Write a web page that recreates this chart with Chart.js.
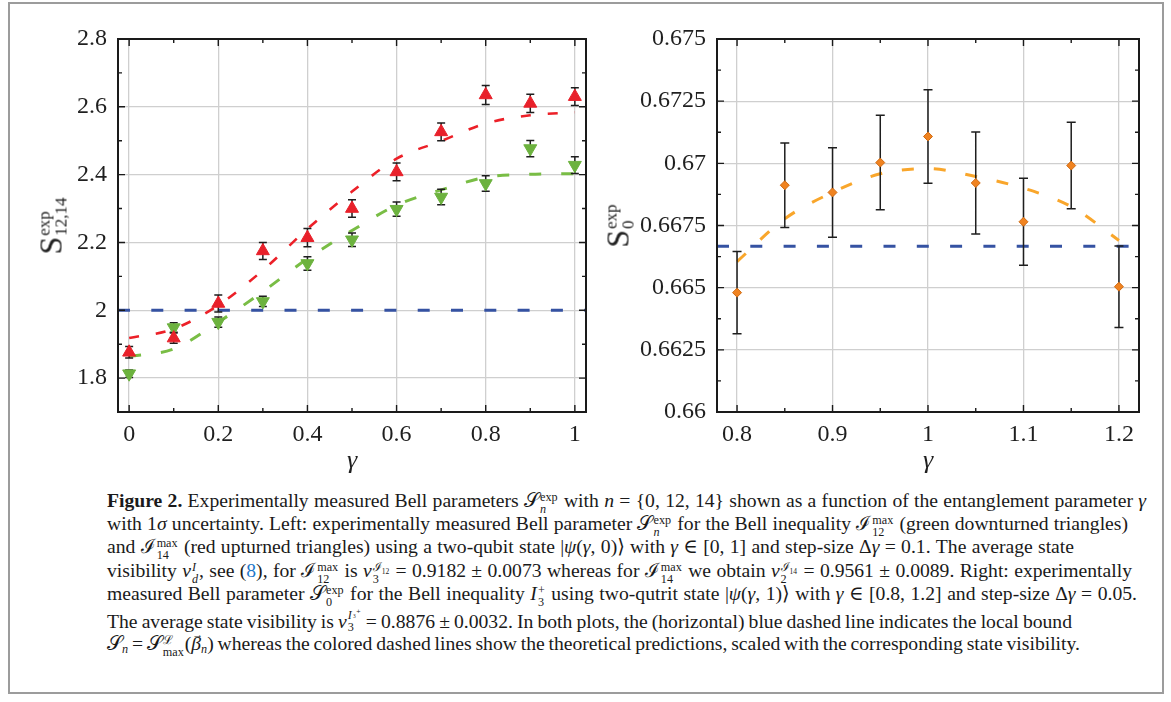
<!DOCTYPE html>
<html>
<head>
<meta charset="utf-8">
<title>Bell parameters vs gamma</title>
<script src="https://cdn.jsdelivr.net/npm/chart.js@4.4.1/dist/chart.umd.min.js"></script>
<style>
  body { margin: 0; background: #fff; }
  #page { position: relative; width: 1171px; height: 702px; overflow: hidden; background: #fff;
          font-family: 'Liberation Serif', 'DejaVu Serif', serif; color: #1a1a1a; }
  #frame { position: absolute; left: 8px; top: 2px; width: 1152px; height: 688px; border: 2px solid #9c9c9c; }
  canvas { position: absolute; top: 0; }
  #left { left: 0; }
  #right { left: 590px; }
  .ytitle { position: absolute; transform: translate(-50%, -50%) rotate(-90deg); white-space: nowrap;
            font-size: 32px; line-height: 1; color: #222; }
  .ytitle .st { display: inline-flex; flex-direction: column; font-size: 17px; line-height: 1;
                vertical-align: 12px; margin-left: 1px; }
  .line { position: absolute; left: 107px; white-space: nowrap; font-size: 17px; line-height: 23px; }
  .ss { display: inline-flex; flex-direction: column; font-size: 0.62em; line-height: 1;
        vertical-align: 6px; margin-left: 1px; margin-right: 1px; }
  .ss > span { height: 1em; }
  .tiny { font-size: 0.75em; position: relative; top: -3px; margin-left: 1px; }
  sub { font-size: 0.62em; vertical-align: -3px; line-height: 0; }
  .cite { color: #1f78c8; }
  .vec { position: relative; display: inline-block; }
  .vec::after { content: '\2192'; position: absolute; left: 1px; top: -9px; font-size: 11px; }
</style>
</head>
<body>
<div id="page">
  <div id="frame"></div>
  <canvas id="left" width="600" height="480"></canvas>
  <canvas id="right" width="581" height="480"></canvas>

  <div class="ytitle" style="left:52px; top:226px;">S<span class="st"><span>exp</span><span>12,14</span></span></div>
  <div class="ytitle" style="left:619px; top:226px;">S<span class="st"><span>exp</span><span>0</span></span></div>

  <div id="caption">
    <div class="line" data-right="1146" style="top:489px;"><b>Figure 2.</b> Experimentally measured Bell parameters 𝒮<span class="ss"><span>exp</span><span><i>n</i></span></span> with <i>n</i> = {0, 12, 14} shown as a function of the entanglement parameter <i>γ</i></div>
    <div class="line" data-right="1128" style="top:512px;">with 1<i>σ</i> uncertainty. Left: experimentally measured Bell parameter 𝒮<span class="ss"><span>exp</span><span><i>n</i></span></span> for the Bell inequality ℐ<span class="ss"><span>max</span><span>12</span></span> (green downturned triangles)</div>
    <div class="line" data-right="1074" style="top:535px;">and ℐ<span class="ss"><span>max</span><span>14</span></span> (red upturned triangles) using a two-qubit state |<i>ψ</i>(<i>γ</i>, 0)⟩ with <i>γ</i> ∈ [0, 1] and step-size Δ<i>γ</i> = 0.1. The average state</div>
    <div class="line" data-right="1132" style="top:559px;">visibility <i>ν</i><span class="ss"><span><i>I</i></span><span><i>d</i></span></span>, see (<span class="cite">8</span>), for ℐ<span class="ss"><span>max</span><span>12</span></span> is <i>ν</i><span class="ss"><span>ℐ<sub>12</sub></span><span>3</span></span> = 0.9182 ± 0.0073 whereas for ℐ<span class="ss"><span>max</span><span>14</span></span> we obtain <i>ν</i><span class="ss"><span>ℐ<sub>14</sub></span><span>2</span></span> = 0.9561 ± 0.0089. Right: experimentally</div>
    <div class="line" data-right="1137" style="top:582px;">measured Bell parameter 𝒮<span class="ss"><span>exp</span><span>0</span></span> for the Bell inequality <i>I</i><span class="ss"><span>+</span><span>3</span></span> using two-qutrit state |<i>ψ</i>(<i>γ</i>, 1)⟩ with <i>γ</i> ∈ [0.8, 1.2] and step-size Δ<i>γ</i> = 0.05.</div>
    <div class="line" data-right="1072" style="top:609px;">The average state visibility is <i>ν</i><span class="ss" style="vertical-align:9px"><span><i>I</i><span class="tiny">₃⁺</span></span><span>3</span></span> = 0.8876 ± 0.0032. In both plots, the (horizontal) blue dashed line indicates the local bound</div>
    <div class="line" data-right="1080" style="top:632px;">𝒮<sub><i>n</i></sub> = 𝒮<span class="ss"><span>ℒ</span><span>max</span></span>(<span class="vec"><i>β</i></span><sub><i>n</i></sub>) whereas the colored dashed lines show the theoretical predictions, scaled with the corresponding state visibility.</div>
  </div>
</div>

<script>
// ---- left panel: S_12 (green, downturned) and S_14 (red, upturned) ----
var gammaLeft = [0, 0.1, 0.2, 0.3, 0.4, 0.5, 0.6, 0.7, 0.8, 0.9, 1];
var s14 = [1.876, 1.918, 2.020, 2.175, 2.214, 2.300, 2.408, 2.526, 2.635, 2.610, 2.630];
var s14Err = [0.017, 0.015, 0.025, 0.025, 0.027, 0.026, 0.026, 0.026, 0.028, 0.027, 0.026];
var s12 = [1.813, 1.949, 1.965, 2.026, 2.138, 2.208, 2.298, 2.334, 2.374, 2.477, 2.428];
var s12Err = [0.011, 0.014, 0.015, 0.015, 0.020, 0.020, 0.021, 0.023, 0.023, 0.024, 0.025];
var s14Theory = [1.918, 1.945, 2.015, 2.118, 2.240, 2.350, 2.447, 2.499, 2.551, 2.575, 2.584];
var s12Theory = [1.864, 1.886, 1.965, 2.055, 2.152, 2.235, 2.310, 2.355, 2.392, 2.401, 2.403];
var boundLeft = 2;
var xRangeLeft = [-0.025, 1.025];
var yRangeLeft = [1.7, 2.8];
var xTicksLeft = [0, 0.2, 0.4, 0.6, 0.8, 1];
var xLabelsLeft = ['0', '0.2', '0.4', '0.6', '0.8', '1'];
var xMinorLeft = [0.1, 0.3, 0.5, 0.7, 0.9];
var yTicksLeft = [1.8, 2.0, 2.2, 2.4, 2.6, 2.8];
var yLabelsLeft = ['1.8', '2', '2.2', '2.4', '2.6', '2.8'];
var yMinorLeft = [1.7, 1.9, 2.1, 2.3, 2.5, 2.7];

// ---- right panel: S_0 for the qutrit inequality ----
var gammaRight = [0.8, 0.85, 0.9, 0.95, 1.0, 1.05, 1.1, 1.15, 1.2];
var s0 = [0.66480, 0.66912, 0.66883, 0.67003, 0.67108, 0.66921, 0.66765, 0.66991, 0.66504];
var s0Err = [0.00165, 0.00170, 0.00180, 0.00190, 0.00188, 0.00205, 0.00175, 0.00174, 0.00164];
var s0Theory = [0.66605, 0.66777, 0.66883, 0.66958, 0.66979, 0.66947, 0.66900, 0.66826, 0.66690];
var boundRight = 2 / 3;
var xRangeRight = [0.779, 1.221];
var yRangeRight = [0.66, 0.675];
var xTicksRight = [0.8, 0.9, 1.0, 1.1, 1.2];
var xLabelsRight = ['0.8', '0.9', '1', '1.1', '1.2'];
var xMinorRight = [0.85, 0.95, 1.05, 1.15];
var yTicksRight = [0.66, 0.6625, 0.665, 0.6675, 0.67, 0.6725, 0.675];
var yLabelsRight = ['0.66', '0.6625', '0.665', '0.6675', '0.67', '0.6725', '0.675'];
var yMinorRight = [0.66125, 0.66375, 0.66625, 0.66875, 0.67125, 0.67375];

var FONT = 'Liberation Serif';
Chart.defaults.font.family = FONT;
Chart.defaults.color = '#222';

function points(xs, ys) {
  return xs.map(function (x, i) { return { x: x, y: ys[i] }; });
}

// vertical error bars with caps, drawn just before the marker dataset
var errorBars = {
  id: 'errorBars',
  beforeDatasetDraw: function (chart, args) {
    var ds = chart.data.datasets[args.index];
    if (!ds.errors) return;
    var ctx = chart.ctx, x = chart.scales.x, y = chart.scales.y;
    var cap = ds.capWidth || 4;
    ctx.save();
    ctx.strokeStyle = '#1e1e1e';
    ctx.lineWidth = 1.5;
    ctx.beginPath();
    ds.data.forEach(function (p, i) {
      var px = x.getPixelForValue(p.x);
      var top = y.getPixelForValue(p.y + ds.errors[i]);
      var bot = y.getPixelForValue(p.y - ds.errors[i]);
      ctx.moveTo(px, top); ctx.lineTo(px, bot);
      ctx.moveTo(px - cap, top); ctx.lineTo(px + cap, top);
      ctx.moveTo(px - cap, bot); ctx.lineTo(px + cap, bot);
    });
    ctx.stroke();
    ctx.restore();
  }
};

// box around the plot area with inward tick marks on all four sides
var frameTicks = {
  id: 'frameTicks',
  afterDraw: function (chart, args, opts) {
    var ctx = chart.ctx, a = chart.chartArea;
    var x = chart.scales.x, y = chart.scales.y;
    ctx.save();
    ctx.strokeStyle = '#1a1a1a';
    ctx.lineWidth = 1.4;
    ctx.beginPath();
    function xMarks(vals, len) {
      vals.forEach(function (v) {
        var px = x.getPixelForValue(v);
        ctx.moveTo(px, a.bottom); ctx.lineTo(px, a.bottom - len);
        ctx.moveTo(px, a.top); ctx.lineTo(px, a.top + len);
      });
    }
    function yMarks(vals, len) {
      vals.forEach(function (v) {
        var py = y.getPixelForValue(v);
        ctx.moveTo(a.left, py); ctx.lineTo(a.left + len, py);
        ctx.moveTo(a.right, py); ctx.lineTo(a.right - len, py);
      });
    }
    xMarks(opts.xMajor, 7); xMarks(opts.xMinor, 4);
    yMarks(opts.yMajor, 7); yMarks(opts.yMinor, 4);
    ctx.stroke();
    ctx.lineWidth = 2;
    ctx.strokeRect(a.left, a.top, a.right - a.left, a.bottom - a.top);
    ctx.restore();
  }
};

function makePanel(id, p) {
  var grid = { color: '#cfcfcf', lineWidth: 1.3, drawTicks: false };
  return new Chart(document.getElementById(id), {
    type: 'scatter',
    data: { datasets: p.datasets },
    plugins: [errorBars, frameTicks],
    options: {
      responsive: false,
      animation: false,
      events: [],
      devicePixelRatio: 1,
      layout: { padding: { top: 39, right: p.padRight, bottom: 0, left: 0 } },
      plugins: {
        legend: { display: false },
        tooltip: { enabled: false },
        frameTicks: { xMajor: p.xTicks, xMinor: p.xMinor, yMajor: p.yTicks, yMinor: p.yMinor }
      },
      scales: {
        x: {
          type: 'linear', min: p.xRange[0], max: p.xRange[1],
          grid: grid, border: { display: false },
          afterBuildTicks: function (s) { s.ticks = p.xTicks.map(function (v) { return { value: v }; }); },
          afterFit: function (s) { s.height = 68; },
          ticks: {
            autoSkip: false, maxRotation: 0, padding: 8,
            font: { size: 24 }, color: '#1f1f1f',
            callback: function (v, i) { return p.xLabels[i]; }
          },
          title: {
            display: true, text: 'γ', color: '#1f1f1f',
            font: { size: 26, style: 'italic' }, padding: { top: 0, bottom: 3 }
          }
        },
        y: {
          type: 'linear', min: p.yRange[0], max: p.yRange[1],
          grid: grid, border: { display: false },
          afterBuildTicks: function (s) { s.ticks = p.yTicks.map(function (v) { return { value: v }; }); },
          afterFit: function (s) { s.width = p.yWidth; },
          ticks: {
            autoSkip: false, padding: 11,
            font: { size: 24 }, color: '#1f1f1f',
            callback: function (v, i) { return p.yLabels[i]; }
          }
        }
      }
    }
  });
}

makePanel('left', {
  xRange: xRangeLeft, yRange: yRangeLeft, padRight: 14, yWidth: 118,
  xTicks: xTicksLeft, xLabels: xLabelsLeft, xMinor: xMinorLeft,
  yTicks: yTicksLeft, yLabels: yLabelsLeft, yMinor: yMinorLeft,
  datasets: [
    { data: points(gammaLeft, s14), errors: s14Err, capWidth: 4,
      pointStyle: 'triangle', pointRadius: 7.5, backgroundColor: '#e8202a', borderColor: '#e8202a',
      borderWidth: 1, order: 1 },
    { data: points(gammaLeft, s12), errors: s12Err, capWidth: 4,
      pointStyle: 'triangle', rotation: 180, pointRadius: 7.5, backgroundColor: '#6cb23e', borderColor: '#6cb23e',
      borderWidth: 1, order: 1 },
    { data: points(gammaLeft, s14Theory), showLine: true, pointRadius: 0,
      borderColor: '#ec2028', borderWidth: 2.6, borderDash: [10, 17], cubicInterpolationMode: 'monotone', order: 3 },
    { data: points(gammaLeft, s12Theory), showLine: true, pointRadius: 0,
      borderColor: '#79bd45', borderWidth: 3, borderDash: [12, 20], cubicInterpolationMode: 'monotone', order: 3 },
    { data: points(xRangeLeft, [boundLeft, boundLeft]), showLine: true, pointRadius: 0,
      borderColor: '#3552a2', borderWidth: 3, borderDash: [12, 21.3], order: 4 }
  ]
});

makePanel('right', {
  xRange: xRangeRight, yRange: yRangeRight, padRight: 32, yWidth: 127,
  xTicks: xTicksRight, xLabels: xLabelsRight, xMinor: xMinorRight,
  yTicks: yTicksRight, yLabels: yLabelsRight, yMinor: yMinorRight,
  datasets: [
    { data: points(gammaRight, s0), errors: s0Err, capWidth: 4.5,
      pointStyle: 'rectRot', pointRadius: 4.5, backgroundColor: '#f08320', borderColor: '#cf6a12',
      borderWidth: 1, order: 1 },
    { data: points(gammaRight, s0Theory), showLine: true, pointRadius: 0,
      borderColor: '#f9a62b', borderWidth: 3, borderDash: [12, 20], cubicInterpolationMode: 'monotone', order: 3 },
    { data: points(xRangeRight, [boundRight, boundRight]), showLine: true, pointRadius: 0,
      borderColor: '#3552a2', borderWidth: 3, borderDash: [12, 21.3], order: 4 }
  ]
});

// caption: one common font size so the lines reach their right ends, the rest taken up by word spacing
function fitCaption() {
  var lines = document.querySelectorAll('.line');
  var ratio = 0;
  lines.forEach(function (el) {
    el.style.wordSpacing = '0px';
    el.style.fontSize = '17px';
  });
  lines.forEach(function (el) {
    var box = el.getBoundingClientRect();
    ratio += (+el.dataset.right - box.left) / box.width;
  });
  var size = 17 * ratio / lines.length;
  lines.forEach(function (el) {
    el.style.fontSize = size + 'px';
    var box = el.getBoundingClientRect();
    var spaces = el.textContent.split(' ').length - 1;
    var target = +el.dataset.right - box.left;
    if (spaces > 0) el.style.wordSpacing = ((target - box.width) / spaces) + 'px';
  });
}
fitCaption();
</script>
</body>
</html>
